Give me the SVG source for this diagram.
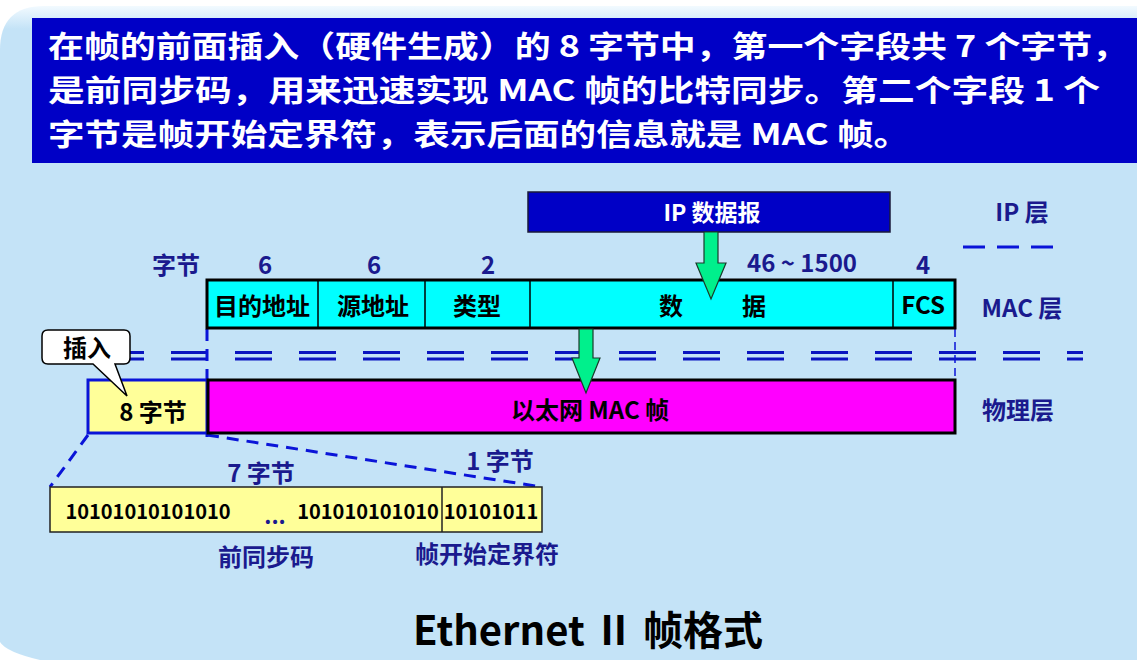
<svg xmlns="http://www.w3.org/2000/svg" width="1137" height="660" viewBox="0 0 1137 660">
  <defs>
    <linearGradient id="panelGrad" x1="0" y1="0" x2="0" y2="1">
      <stop offset="0" stop-color="#f2faff"/>
      <stop offset="0.035" stop-color="#c4e3f7"/>
      <stop offset="1" stop-color="#c4e3f7"/>
    </linearGradient>
    <style>
      text { font-family: "Noto Sans CJK SC", "Liberation Sans", sans-serif; font-weight: bold; }
      .head { fill: #ffffff; font-size: 30px; }
      .lbl { fill: #1a1a8e; font-size: 24px; }
      .cell { fill: #000000; font-size: 24px; text-anchor: middle; }
      .bits { fill: #000000; font-size: 20px; }
      .box { stroke: #000000; stroke-width: 3; }
      .bluedash { stroke: #0a14d8; stroke-width: 3; fill: none; stroke-dasharray: 12 8; }
      .thindash { stroke: #0a14d8; stroke-width: 1.5; fill: none; stroke-dasharray: 8 5; }
      .dbl { stroke: #0a14c0; stroke-width: 3; stroke-dasharray: 37 27; }
      .arrow { fill: #00f08c; stroke: #1a3a2a; stroke-width: 1.2; }
    </style>
  </defs>

  <!-- page and panel -->
  <rect x="0" y="0" width="1137" height="660" fill="#ffffff"/>
  <path d="M0,50 Q0,6 44,6 L1137,6 L1137,660 L40,660 Q6,652 0,642 Z" fill="url(#panelGrad)"/>

  <!-- header: three lines -->
  <g id="header">
    <rect x="32" y="18" width="1105" height="145" fill="#0000c6"/>
    <text class="head" x="48" y="57" textLength="1080" lengthAdjust="spacingAndGlyphs">在帧的前面插入（硬件生成）的 8 字节中，第一个字段共 7 个字节，</text>
    <text class="head" x="48" y="101" textLength="1052" lengthAdjust="spacingAndGlyphs">是前同步码，用来迅速实现 MAC 帧的比特同步。第二个字段 1 个</text>
    <text class="head" x="48" y="145" textLength="862" lengthAdjust="spacingAndGlyphs">字节是帧开始定界符，表示后面的信息就是 MAC 帧。</text>
  </g>

  <!-- layer labels -->
  <g id="layer-labels">
    <text class="lbl" x="1022" y="221" text-anchor="middle">IP 层</text>
    <text class="lbl" x="1022" y="317" text-anchor="middle">MAC 层</text>
    <text class="lbl" x="1018" y="419" text-anchor="middle">物理层</text>
    <line x1="963" y1="247" x2="1055" y2="247" stroke="#0a14d8" stroke-width="3" stroke-dasharray="22 12"/>
  </g>

  <!-- connectors: layer separators, zoom lines -->
  <g id="connectors">
    <line class="dbl" x1="107" y1="352.5" x2="1083" y2="352.5"/>
    <line class="dbl" x1="107" y1="359" x2="1083" y2="359"/>
    <line class="bluedash" x1="207" y1="329" x2="207" y2="437"/>
    <line class="thindash" x1="955" y1="329" x2="955" y2="380"/>
    <line class="bluedash" x1="88" y1="435" x2="50" y2="487"/>
    <line class="bluedash" x1="207" y1="435" x2="542" y2="487"/>
  </g>

  <!-- IP datagram -->
  <g id="ip-datagram">
    <rect x="528" y="192" width="362" height="40" fill="#0000c6" stroke="#1a1a3a" stroke-width="1.5"/>
    <text x="712" y="221" fill="#ffffff" font-size="23" text-anchor="middle">IP 数据报</text>
  </g>

  <!-- byte counts -->
  <g id="byte-counts">
    <text class="lbl" x="176" y="274" text-anchor="middle">字节</text>
    <text class="lbl" x="265" y="274" text-anchor="middle">6</text>
    <text class="lbl" x="374" y="274" text-anchor="middle">6</text>
    <text class="lbl" x="488" y="274" text-anchor="middle">2</text>
    <text class="lbl" x="802" y="272" text-anchor="middle" font-size="25">46 ~ 1500</text>
    <text class="lbl" x="923" y="274" text-anchor="middle">4</text>
  </g>

  <!-- MAC frame fields -->
  <g id="mac-frame">
    <rect class="box" x="207" y="280" width="748" height="48" fill="#00ffff"/>
    <line x1="318" y1="280" x2="318" y2="328" stroke="#000" stroke-width="1.5"/>
    <line x1="425" y1="280" x2="425" y2="328" stroke="#000" stroke-width="1.5"/>
    <line x1="530" y1="280" x2="530" y2="328" stroke="#000" stroke-width="1.5"/>
    <line x1="893" y1="280" x2="893" y2="328" stroke="#000" stroke-width="1.5"/>
    <text class="cell" x="262" y="315">目的地址</text>
    <text class="cell" x="373" y="315">源地址</text>
    <text class="cell" x="477" y="315">类型</text>
    <text class="cell" x="671" y="315">数</text>
    <text class="cell" x="754" y="315">据</text>
    <text class="cell" x="923" y="314">FCS</text>
  </g>

  <!-- physical layer frame -->
  <g id="preamble-8">
    <rect x="88" y="380" width="119" height="53" fill="#ffff99" stroke="#0a14d8" stroke-width="3"/>
    <text class="cell" x="153" y="421">8 字节</text>
  </g>
  <g id="ethernet-frame">
    <rect class="box" x="208" y="380" width="747" height="53" fill="#ff00ff"/>
    <text class="cell" x="590" y="419">以太网 MAC 帧</text>
  </g>

  <!-- arrows -->
  <g id="arrow-ip">
    <path class="arrow" d="M704,232 L718,232 L718,263 L726,263 L711,299 L696,263 L704,263 Z"/>
  </g>
  <g id="arrow-mac">
    <path class="arrow" d="M579,329 L593,329 L593,358 L600,358 L586,393 L572,358 L579,358 Z"/>
  </g>

  <!-- callout -->
  <g id="callout-insert">
    <path d="M48,330 L124,330 Q130,330 130,336 L130,358 Q130,364 124,364 L115,364 L127,396 L93,364 L48,364 Q42,364 42,358 L42,336 Q42,330 48,330 Z" fill="#ffffff" stroke="#000000" stroke-width="1.5"/>
    <text class="cell" x="87" y="357">插入</text>
  </g>

  <!-- preamble + SFD detail -->
  <g id="bits-detail">
    <rect x="50" y="487" width="492" height="45" fill="#ffff99" stroke="#222222" stroke-width="1.5"/>
    <line x1="442" y1="487" x2="442" y2="532" stroke="#222222" stroke-width="1.5"/>
    <text class="bits" x="148" y="519" text-anchor="middle">10101010101010</text>
    <text x="275" y="524" fill="#1a1a8e" font-size="22" text-anchor="middle">...</text>
    <text class="bits" x="368" y="519" text-anchor="middle">101010101010</text>
    <text class="bits" x="491" y="519" text-anchor="middle">10101011</text>
    <text class="lbl" x="261" y="482" text-anchor="middle">7 字节</text>
    <text class="lbl" x="500" y="470" text-anchor="middle">1 字节</text>
    <text class="lbl" x="266" y="566" text-anchor="middle">前同步码</text>
    <text class="lbl" x="487" y="563" text-anchor="middle">帧开始定界符</text>
  </g>

  <!-- title -->
  <text x="588" y="645" fill="#000000" font-size="40" text-anchor="middle">Ethernet Ⅱ 帧格式</text>
</svg>
